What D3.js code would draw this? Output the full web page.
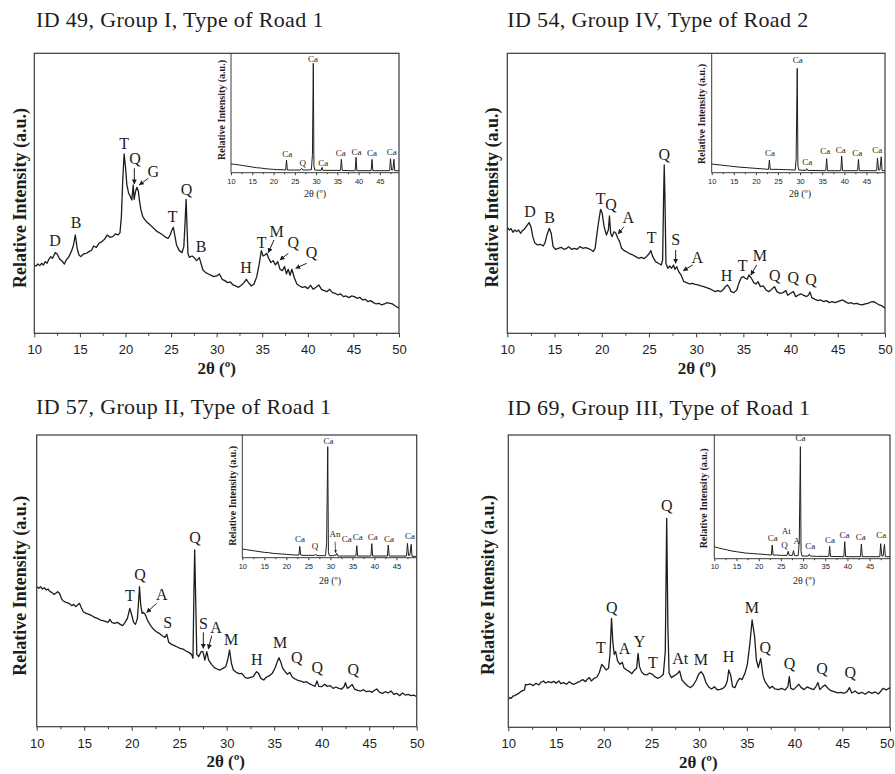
<!DOCTYPE html>
<html>
<head>
<meta charset="utf-8">
<script src="https://cdn.jsdelivr.net/npm/d3@7"></script>
<style>
  html, body { margin: 0; padding: 0; background: #fff; }
  svg { display: block; }
  svg text { -webkit-font-smoothing: antialiased; }
</style>
</head>
<body>
<svg id="chart" width="895" height="774"></svg>
<script>
// ---------- XRD scans: [2θ (°), relative intensity (a.u.)] ----------
const scan49 = [
  [10,205],[10.2,202],[10.4,208],[10.6,203],[10.8,210],[11,205],[11.2,215],[11.4,210],[11.6,222],[11.8,230],
  [12,225],[12.3,242],[12.5,238],[12.8,222],[13,218],[13.3,208],[13.5,220],[13.8,230],[14.1,248],[14.3,265],
  [14.5,295],[14.7,255],[14.9,235],[15.1,230],[15.4,238],[15.7,240],[16,245],[16.3,250],[16.5,262],[16.8,258],
  [17.1,270],[17.4,275],[17.7,282],[18,295],[18.3,288],[18.6,290],[18.9,298],[19.2,295],[19.4,302],[19.55,350],
  [19.7,460],[19.85,538],[20,500],[20.15,445],[20.35,420],[20.55,410],[20.7,400],[20.85,445],[20.95,402],[21.1,425],
  [21.25,438],[21.4,428],[21.55,395],[21.7,370],[21.9,350],[22.1,342],[22.3,335],[22.6,328],[22.9,320],[23.2,312],
  [23.5,305],[23.8,300],[24.1,295],[24.4,288],[24.7,285],[24.9,295],[25.1,310],[25.25,318],[25.4,295],[25.6,265],
  [25.9,248],[26.2,242],[26.4,260],[26.55,340],[26.65,402],[26.75,320],[26.85,240],[27,228],[27.3,232],[27.5,228],
  [27.8,218],[28.1,227],[28.3,208],[28.5,190],[28.8,182],[29.1,178],[29.4,174],[29.7,170],[30,172],[30.3,178],
  [30.6,162],[30.9,158],[31.2,152],[31.5,154],[31.8,145],[32.1,142],[32.4,138],[32.7,144],[33,152],[33.25,162],
  [33.5,152],[33.8,142],[34.1,148],[34.4,170],[34.65,205],[34.9,248],[35.1,232],[35.3,235],[35.5,240],[35.7,225],
  [35.95,212],[36.2,218],[36.45,205],[36.7,215],[36.95,192],[37.2,188],[37.45,200],[37.65,178],[37.85,192],[38.05,174],
  [38.25,192],[38.5,168],[38.8,148],[39.1,142],[39.4,138],[39.7,140],[40,134],[40.3,144],[40.6,132],[40.9,138],
  [41.2,145],[41.5,132],[41.8,128],[42.1,125],[42.4,132],[42.7,122],[43,120],[43.3,115],[43.6,118],[43.9,110],
  [44.2,112],[44.5,107],[44.8,112],[45.1,110],[45.4,105],[45.7,108],[46,100],[46.3,102],[46.6,95],[46.9,98],
  [47.2,92],[47.5,88],[47.8,90],[48.1,85],[48.4,88],[48.7,92],[49,90],[49.3,88],[49.6,82],[50,75]
];
const scan54 = [
  [10,318],[10.2,310],[10.4,314],[10.6,303],[10.8,310],[11,305],[11.2,310],[11.4,300],[11.6,308],[11.8,312],
  [12,320],[12.3,332],[12.5,320],[12.7,290],[12.9,272],[13.2,265],[13.5,267],[13.8,262],[14,272],[14.2,295],
  [14.45,315],[14.65,300],[14.85,260],[15.1,252],[15.4,255],[15.7,258],[16,252],[16.3,255],[16.5,260],[16.8,252],
  [17.1,255],[17.4,252],[17.7,260],[18,255],[18.3,257],[18.6,254],[18.9,250],[19.1,245],[19.3,255],[19.5,300],
  [19.7,340],[19.88,372],[20.05,360],[20.25,320],[20.5,295],[20.7,310],[20.82,352],[20.95,300],[21.1,290],[21.3,305],
  [21.5,300],[21.7,285],[21.9,275],[22.1,255],[22.4,248],[22.7,243],[23,238],[23.3,235],[23.6,230],[23.9,225],
  [24.2,228],[24.5,224],[24.8,232],[25,238],[25.2,248],[25.4,230],[25.7,215],[26,210],[26.3,205],[26.45,220],
  [26.55,400],[26.62,505],[26.7,400],[26.8,210],[27,195],[27.2,202],[27.4,195],[27.6,205],[27.75,192],[27.95,200],
  [28.15,185],[28.4,175],[28.7,155],[29,152],[29.3,148],[29.6,150],[29.9,147],[30.2,145],[30.5,142],[30.8,140],
  [31.1,137],[31.4,134],[31.7,130],[32,125],[32.3,128],[32.6,125],[32.9,132],[33.1,140],[33.3,145],[33.5,138],
  [33.7,125],[34,122],[34.3,130],[34.55,152],[34.8,168],[35,170],[35.2,165],[35.4,162],[35.6,175],[35.85,165],
  [36.1,152],[36.35,148],[36.55,155],[36.8,140],[37.1,142],[37.4,130],[37.7,125],[38,132],[38.3,140],[38.55,125],
  [38.9,120],[39.2,122],[39.5,128],[39.7,114],[40,120],[40.3,125],[40.55,110],[40.85,115],[41.1,118],[41.4,114],
  [41.7,110],[41.9,115],[42.05,124],[42.25,107],[42.6,102],[42.9,98],[43.2,100],[43.5,95],[43.8,98],[44.1,92],
  [44.4,95],[44.7,92],[45,95],[45.3,98],[45.5,100],[45.8,95],[46.1,90],[46.4,92],[46.7,88],[47,90],
  [47.3,87],[47.6,85],[47.9,88],[48.2,90],[48.5,94],[48.8,95],[49.1,90],[49.4,85],[49.7,82],[50,75]
];
const scan57 = [
  [10,420],[10.2,415],[10.4,420],[10.6,413],[10.8,417],[11,410],[11.2,413],[11.4,405],[11.6,403],[11.8,397],
  [12,400],[12.2,405],[12.4,400],[12.6,385],[12.8,377],[13.1,373],[13.4,370],[13.7,363],[13.9,367],[14.1,360],
  [14.3,365],[14.5,370],[14.7,357],[14.9,345],[15.2,340],[15.5,337],[15.8,333],[16.1,328],[16.4,325],[16.7,320],
  [17,318],[17.3,315],[17.5,313],[17.7,322],[17.9,313],[18.2,310],[18.5,313],[18.8,307],[19.05,303],[19.3,313],
  [19.55,325],[19.8,355],[20,335],[20.2,313],[20.4,307],[20.6,325],[20.7,365],[20.82,420],[20.95,365],[21.1,340],
  [21.25,343],[21.45,335],[21.65,320],[21.85,310],[22.05,301],[22.3,292],[22.6,285],[22.9,280],[23.2,273],[23.5,268],
  [23.7,277],[23.9,253],[24.2,247],[24.5,243],[24.8,239],[25.1,235],[25.4,233],[25.7,227],[26,223],[26.3,217],
  [26.45,205],[26.55,405],[26.63,530],[26.72,405],[26.85,217],[27.05,210],[27.3,225],[27.5,225],[27.7,200],[27.9,225],
  [28.1,200],[28.4,187],[28.7,177],[29,173],[29.3,170],[29.6,175],[29.9,180],[30.1,200],[30.3,230],[30.5,190],
  [30.7,170],[31,163],[31.3,159],[31.6,160],[31.9,149],[32.2,145],[32.5,148],[32.8,150],[33,159],[33.15,165],
  [33.35,160],[33.6,145],[33.9,140],[34.2,149],[34.5,153],[34.8,160],[35.1,177],[35.3,193],[35.5,207],[35.7,193],
  [35.9,175],[36.15,165],[36.4,157],[36.65,163],[36.9,149],[37.2,143],[37.5,139],[37.8,137],[38.1,133],[38.4,135],
  [38.7,129],[39,125],[39.3,121],[39.5,137],[39.7,121],[40,120],[40.3,127],[40.6,121],[40.9,123],[41.2,115],
  [41.5,119],[41.8,115],[42.1,113],[42.35,120],[42.5,132],[42.7,115],[42.95,120],[43.2,127],[43.45,113],[43.8,109],
  [44.1,107],[44.4,111],[44.7,105],[45,107],[45.3,103],[45.6,110],[45.8,113],[46.1,103],[46.4,100],[46.7,105],
  [47,101],[47.3,107],[47.6,97],[47.9,100],[48.2,93],[48.5,101],[48.8,95],[49.1,97],[49.4,93],[49.7,95],[50,90]
];
const scan69 = [
  [10,84],[10.15,89],[10.3,87],[10.5,94],[10.7,95],[10.9,99],[11.1,102],[11.3,107],[11.5,110],[11.7,112],
  [11.8,129],[12,127],[12.3,130],[12.6,125],[12.9,132],[13.2,127],[13.4,135],[13.7,139],[13.9,133],[14.2,137],
  [14.5,134],[14.8,138],[15,132],[15.3,139],[15.5,131],[15.8,134],[16.1,129],[16.4,137],[16.6,132],[16.9,129],
  [17.2,134],[17.5,138],[17.8,143],[18.1,137],[18.3,145],[18.5,149],[18.7,139],[19,147],[19.3,151],[19.55,165],
  [19.8,189],[20,182],[20.25,172],[20.5,177],[20.65,217],[20.82,327],[20.95,257],[21.1,219],[21.25,227],[21.45,199],
  [21.7,189],[21.95,195],[22.1,179],[22.4,172],[22.7,167],[22.95,161],[23.2,171],[23.45,177],[23.6,222],[23.75,182],
  [23.95,167],[24.2,159],[24.5,157],[24.8,163],[25.1,159],[25.35,152],[25.65,147],[25.95,151],[26.25,159],[26.45,227],
  [26.6,627],[26.72,307],[26.85,162],[27.1,149],[27.4,155],[27.65,159],[27.95,169],[28.2,142],[28.5,132],[28.8,124],
  [29.1,119],[29.4,127],[29.7,142],[29.95,159],[30.2,167],[30.45,157],[30.7,135],[31,121],[31.3,115],[31.6,122],
  [31.9,112],[32.2,114],[32.5,117],[32.75,124],[32.95,139],[33.1,172],[33.3,157],[33.5,122],[33.75,119],[34,137],
  [34.25,147],[34.5,143],[34.8,162],[35.05,189],[35.3,247],[35.55,322],[35.8,275],[36,202],[36.2,179],[36.45,207],
  [36.7,155],[36.9,137],[37.1,129],[37.4,117],[37.65,123],[37.95,115],[38.3,113],[38.65,117],[39,112],[39.3,122],
  [39.45,152],[39.6,117],[39.9,113],[40.2,122],[40.45,129],[40.7,119],[41,113],[41.3,121],[41.65,117],[42,113],
  [42.25,123],[42.45,134],[42.65,113],[42.95,122],[43.2,127],[43.5,117],[43.8,110],[44.15,107],[44.5,103],[44.85,105],
  [45.2,102],[45.5,107],[45.75,119],[46,103],[46.35,109],[46.7,101],[47.05,105],[47.4,99],[47.75,107],[48.1,102],
  [48.45,106],[48.8,100],[49.05,109],[49.3,117],[49.6,112],[50,119]
];

// ---------- inset scans (full range, dominated by calcite) ----------
const inset49 = [
  [10,26],[11,25],[12,23],[13,21],[14,19],[15,17],[16,15],[17,14],[18,12],[19,11],[20,10],[21,9],[22,9],
  [22.85,8],[23.05,38],[23.25,8],[24,8],[25,8],[26.3,8],[26.6,13],[26.9,8],[28,8],[28.9,9],[29.15,55],
  [29.35,328],[29.5,20],[29.7,8],[31.2,7],[31.4,16],[31.6,7],[33,7],[35.75,7],[35.95,40],[36.15,7],[38,6],
  [39.2,6],[39.4,46],[39.6,6],[41,6],[42.95,6],[43.15,40],[43.35,6],[45,6],[47.3,6],[47.5,42],[47.75,8],
  [48.05,8],[48.3,40],[48.5,6],[49.5,6]
];
const inset54 = [
  [10,26],[12,23],[14,20],[16,17],[18,15],[20,13],[22,11],[22.85,10],[23.05,38],[23.25,10],[25,10],[27,9],
  [28.9,8],[29.1,40],[29.35,313],[29.5,20],[29.7,8],[31.3,7],[31.5,12],[31.7,7],[35.8,6],[36,42],[36.2,6],
  [39.2,6],[39.4,50],[39.6,6],[43,6],[43.2,40],[43.4,6],[47.3,6],[47.5,44],[47.75,8],[48.05,8],[48.35,48],
  [48.55,6],[49.2,6]
];
const inset57 = [
  [10,26],[11,24],[12,22],[13,20],[14,18],[15,16],[16,15],[17,13],[18,12],[19,11],[20,10],[21,9],[22,8],
  [22.85,8],[23.05,34],[23.25,8],[24,7],[25,7],[26.4,7],[26.65,11],[26.9,6],[28.9,6],[29.15,45],[29.4,333],
  [29.55,18],[29.75,6],[30.8,6],[30.95,9],[31.2,6],[31.45,13],[31.7,5],[33,5],[35.8,5],[36,36],[36.2,5],
  [39.2,5],[39.4,42],[39.6,5],[42.95,5],[43.15,38],[43.35,5],[47.3,5],[47.5,43],[47.75,7],[48.05,7],
  [48.35,40],[48.55,4],[49.6,4]
];
const inset69 = [
  [10,36],[11,32],[12,29],[13,26],[14,23],[15,21],[16,19],[17,17],[18,16],[19,15],[20,14],[21,13],[22,12],
  [22.85,11],[23.05,41],[23.25,11],[24,11],[25,10],[26.4,10],[26.65,22],[26.9,10],[27.6,10],[27.85,24],
  [28.1,9],[28.9,9],[29.15,50],[29.4,336],[29.55,22],[29.75,8],[31.2,8],[31.4,13],[31.6,8],[33,7],[35.8,7],
  [36,37],[36.2,7],[39.2,6],[39.4,51],[39.6,6],[42.95,6],[43.15,44],[43.35,6],[47.3,6],[47.5,45],[47.75,8],
  [48.05,8],[48.35,43],[48.55,6],[49.6,6]
];

// ---------- phase labels: [label, 2θ, intensity at text baseline] ----------
const phases49 = [["D",12.27,263],["B",14.57,317],["T",19.84,553],["Q",21.04,507],["G",23.05,470],["T",25.17,335],
  ["Q",26.71,415],["B",28.28,245],["H",33.22,180],["T",34.94,255],["M",36.58,290],["Q",38.41,255],["Q",40.42,225]];
const phases54 = [["D",12.4,350],["B",14.48,332],["T",19.88,387],["Q",20.98,370],["A",22.81,332],["T",25.28,270],
  ["Q",26.63,520],["S",27.83,265],["A",30.12,212],["H",33.23,158],["T",34.92,188],["M",36.76,218],["Q",38.34,158],
  ["Q",40.29,150],["Q",42.16,145]];
const phases57 = [["T",19.82,377],["Q",20.88,440],["A",23.16,380],["S",23.79,297],["Q",26.67,550],["S",27.54,293],
  ["A",28.88,280],["M",30.46,245],["H",33.16,185],["M",35.61,235],["Q",37.37,190],["Q",39.54,160],["Q",43.33,155]];
const phases69 = [["T",19.69,222],["Q",20.84,344],["A",22.17,219],["Y",23.74,242],["T",25.14,179],["Q",26.61,649],
  ["At",28.01,189],["M",30.17,187],["H",33.08,195],["M",35.52,342],["Q",36.92,222],["Q",39.48,175],["Q",42.87,159],
  ["Q",45.84,149]];

// pointer arrows: [2θ start, intensity start, 2θ end, intensity end]
const arrows49 = [[20.97,495,20.97,448],[22.5,465,21.52,445],[36.29,280,35.67,242],[37.86,240,36.95,220],[39.87,210,38.67,195]];
const arrows54 = [[22.35,320,21.75,298],[27.83,250,27.83,210],[29.63,205,28.64,188],[36.4,205,35.8,175]];
const arrows57 = [[22.63,370,21.58,343],[27.54,283,27.54,235],[28.42,273,28.07,233]];
const arrows69 = [];

// inset labels
const insetPhases49 = [["Ca",23.2,46],["Q",26.85,21],["Ca",29.3,332],["Ca",31.7,21],["Ca",35.8,50],["Ca",39.5,52],["Ca",43.15,50],["Ca",47.8,53]];
const insetPhases54 = [["Ca",23.2,50],["Ca",29.44,328],["Ca",31.6,23],["Ca",35.7,55],["Ca",39.2,58],["Ca",42.9,51],["Ca",47.45,60]];
const insetPhases57 = [["Ca",23.1,46],["Q",26.5,26],["Ca",29.6,340],["An",31.05,63],["Ca",33.7,46],["Ca",36.2,52],["Ca",39.6,53],["Ca",43.3,48],["Ca",48.1,56]];
const insetPhases69 = [["Ca",23.17,53],["At",26.2,74],["Q",25.8,33],["A",28.6,44],["Ca",29.4,353],["Ca",31.6,28],["Ca",36.1,48],["Ca",39.35,63],["Ca",43.0,56],["Ca",47.6,61]];
const insetArrows57 = [[31.05,48,31.2,15]];

const titles = ["ID 49, Group I, Type of Road 1", "ID 54, Group IV, Type of Road 2",
                "ID 57, Group II, Type of Road 1", "ID 69, Group III, Type of Road 1"];
const mainTicks = [10, 15, 20, 25, 30, 35, 40, 45, 50];
const mainMinor = [12.5, 17.5, 22.5, 27.5, 32.5, 37.5, 42.5, 47.5];
const insetTicks = [10, 15, 20, 25, 30, 35, 40, 45];
const insetMinor = [12.5, 17.5, 22.5, 27.5, 32.5, 37.5, 42.5, 47.5];

// ---------- layout ----------
const layout = [
  { left: 34.3, right: 399, top: 53.3, bottom: 333.3, yMax: 840, tx: 36, ty: 27, tickBase: 354,
    xl: [216.7, 374], yl: [26, 198],
    inset: { left: 231, right: 399, top: 53.3, bottom: 172.7, dom: [10, 49.5], yMax: 358, tickBase: 184, xl: [315, 197.3], yl: [225.3, 110] } },
  { left: 507.3, right: 885, top: 53.3, bottom: 333.3, yMax: 840, tx: 507.3, ty: 26.7, tickBase: 354,
    xl: [697, 374], yl: [497.7, 197.5],
    inset: { left: 711.7, right: 885, top: 53.3, bottom: 172.7, dom: [10, 49.2], yMax: 358, tickBase: 184.3, xl: [800, 197.3], yl: [705.3, 114] } },
  { left: 36.7, right: 416.7, top: 435, bottom: 726.7, yMax: 875, tx: 36, ty: 414.3, tickBase: 747.7,
    xl: [225.7, 766.7], yl: [26, 585.8],
    inset: { left: 242.3, right: 416.7, top: 435, bottom: 557.7, dom: [10, 49.6], yMax: 368, tickBase: 569.3, xl: [330, 584.3], yl: [236, 495.8] } },
  { left: 508.3, right: 890, top: 435, bottom: 727.3, yMax: 877, tx: 507.3, ty: 415, tickBase: 748.3,
    xl: [698.3, 768.3], yl: [494.3, 585],
    inset: { left: 714.3, right: 890, top: 435, bottom: 558.7, dom: [10, 49.6], yMax: 371, tickBase: 569.3, xl: [804, 584.3], yl: [707, 498.3] } }
];

const panels = [
  { title: titles[0], scan: scan49, inset: inset49, phases: phases49, arrows: arrows49, insetPhases: insetPhases49, insetArrows: [] },
  { title: titles[1], scan: scan54, inset: inset54, phases: phases54, arrows: arrows54, insetPhases: insetPhases54, insetArrows: [] },
  { title: titles[2], scan: scan57, inset: inset57, phases: phases57, arrows: arrows57, insetPhases: insetPhases57, insetArrows: insetArrows57 },
  { title: titles[3], scan: scan69, inset: inset69, phases: phases69, arrows: arrows69, insetPhases: insetPhases69, insetArrows: [] }
];

// ---------- drawing ----------
const WIDTH = 895;
const INK = "#1d1d1d";
const FRAME = "#3a3a3a";
const SERIF = "'Liberation Serif', 'Times New Roman', serif";
const SANS = "'Liberation Sans', Arial, sans-serif";

const svg = d3.select("#chart");
const defs = svg.append("defs");
defs.append("marker")
  .attr("id", "head").attr("viewBox", "0 0 10 10").attr("refX", 9).attr("refY", 5)
  .attr("markerWidth", 5).attr("markerHeight", 5).attr("orient", "auto")
  .append("path").attr("d", "M0,0 L10,5 L0,10 Z").attr("fill", INK);
defs.append("marker")
  .attr("id", "headSmall").attr("viewBox", "0 0 10 10").attr("refX", 9).attr("refY", 5)
  .attr("markerWidth", 4).attr("markerHeight", 4).attr("orient", "auto")
  .append("path").attr("d", "M0,0 L10,5 L0,10 Z").attr("fill", INK);

function bottomAxis(g, x, y0, ticks, minor, major, minorLen, fontSize, baseline) {
  const a = g.append("g").attr("transform", `translate(0,${y0})`)
    .call(d3.axisBottom(x).tickValues(ticks).tickSize(major).tickSizeOuter(0).tickFormat(d3.format("d")));
  a.select(".domain").remove();
  a.attr("font-family", SANS).attr("font-size", fontSize);
  a.selectAll("line").attr("stroke", FRAME);
  a.selectAll("text").attr("y", baseline - y0).attr("dy", null).attr("fill", INK);
  // keep the last label inside the page when the frame runs up to its edge
  a.selectAll(".tick").each(function (d) {
    const t = d3.select(this).select("text");
    const w = t.node().getComputedTextLength();
    if (x(d) + w / 2 > WIDTH - 1) t.attr("text-anchor", "end").attr("x", WIDTH - 1 - x(d));
  });
  const m = g.append("g").attr("transform", `translate(0,${y0})`)
    .call(d3.axisBottom(x).tickValues(minor).tickSize(minorLen).tickSizeOuter(0).tickFormat(() => ""));
  m.select(".domain").remove();
  m.selectAll("line").attr("stroke", FRAME);
}

panels.forEach((p, i) => {
  const L = layout[i];
  const g = svg.append("g");
  const x = d3.scaleLinear().domain([10, 50]).range([L.left, L.right]);
  const y = d3.scaleLinear().domain([0, L.yMax]).range([L.bottom, L.top]);

  g.append("text").attr("x", L.tx).attr("y", L.ty)
    .attr("font-family", SERIF).attr("font-size", 22).attr("letter-spacing", 0.35)
    .attr("fill", INK).text(p.title);

  const line = d3.line().x(d => x(d[0])).y(d => y(d[1]));
  g.append("path").datum(p.scan).attr("d", line)
    .attr("fill", "none").attr("stroke", INK).attr("stroke-width", 1.3).attr("stroke-linejoin", "round");

  // phase labels and pointers
  g.append("g").selectAll("text").data(p.phases).join("text")
    .attr("x", d => x(d[1])).attr("y", d => y(d[2]))
    .attr("text-anchor", "middle").attr("font-family", SERIF).attr("font-size", 16).attr("fill", INK)
    .text(d => d[0]);
  g.append("g").selectAll("line").data(p.arrows).join("line")
    .attr("x1", d => x(d[0])).attr("y1", d => y(d[1])).attr("x2", d => x(d[2])).attr("y2", d => y(d[3]))
    .attr("stroke", INK).attr("stroke-width", 1).attr("marker-end", "url(#head)");

  // inset with the full-range pattern
  const I = L.inset;
  const xi = d3.scaleLinear().domain(I.dom).range([I.left, I.right]);
  const yi = d3.scaleLinear().domain([0, I.yMax]).range([I.bottom, I.top]);
  const gi = g.append("g");
  gi.append("rect").attr("x", I.left).attr("y", I.top).attr("width", I.right - I.left).attr("height", I.bottom - I.top).attr("fill", "#fff");
  gi.append("path").datum(p.inset).attr("d", d3.line().x(d => xi(d[0])).y(d => yi(d[1])))
    .attr("fill", "none").attr("stroke", INK).attr("stroke-width", 1);
  gi.append("line").attr("x1", I.left).attr("x2", I.left).attr("y1", I.top).attr("y2", I.bottom).attr("stroke", FRAME).attr("stroke-width", 1);
  gi.append("line").attr("x1", I.left).attr("x2", I.right).attr("y1", I.bottom).attr("y2", I.bottom).attr("stroke", FRAME).attr("stroke-width", 1);
  bottomAxis(gi, xi, I.bottom, insetTicks, insetMinor, 2.5, 1.5, 7.5, I.tickBase);
  gi.append("g").selectAll("text").data(p.insetPhases).join("text")
    .attr("x", d => xi(d[1])).attr("y", d => yi(d[2]))
    .attr("text-anchor", "middle").attr("font-family", SERIF).attr("font-size", 9).attr("fill", INK)
    .text(d => d[0]);
  gi.append("g").selectAll("line").data(p.insetArrows).join("line")
    .attr("x1", d => xi(d[0])).attr("y1", d => yi(d[1])).attr("x2", d => xi(d[2])).attr("y2", d => yi(d[3]))
    .attr("stroke", INK).attr("stroke-width", 0.7).attr("marker-end", "url(#headSmall)");
  gi.append("text").attr("x", I.xl[0]).attr("y", I.xl[1]).attr("text-anchor", "middle")
    .attr("font-family", SERIF).attr("font-size", 10).attr("fill", INK).text("2θ (º)");
  gi.append("text").attr("transform", `translate(${I.yl[0]},${I.yl[1]}) rotate(-90)`).attr("text-anchor", "middle")
    .attr("font-family", SERIF).attr("font-weight", "bold").attr("font-size", 10).attr("fill", INK)
    .text("Relative Intensity (a.u.)");

  // main frame and axis
  g.append("rect").attr("x", L.left).attr("y", L.top).attr("width", L.right - L.left).attr("height", L.bottom - L.top)
    .attr("fill", "none").attr("stroke", FRAME).attr("stroke-width", 1.2);
  bottomAxis(g, x, L.bottom, mainTicks, mainMinor, 4, 2.5, 13, L.tickBase);

  g.append("text").attr("x", L.xl[0]).attr("y", L.xl[1]).attr("text-anchor", "middle")
    .attr("font-family", SERIF).attr("font-weight", "bold").attr("font-size", 17).attr("fill", INK).text("2θ (º)");
  g.append("text").attr("transform", `translate(${L.yl[0]},${L.yl[1]}) rotate(-90)`).attr("text-anchor", "middle")
    .attr("font-family", SERIF).attr("font-weight", "bold").attr("font-size", 18).attr("fill", INK)
    .text("Relative Intensity (a.u.)");
});
</script>
</body>
</html>
